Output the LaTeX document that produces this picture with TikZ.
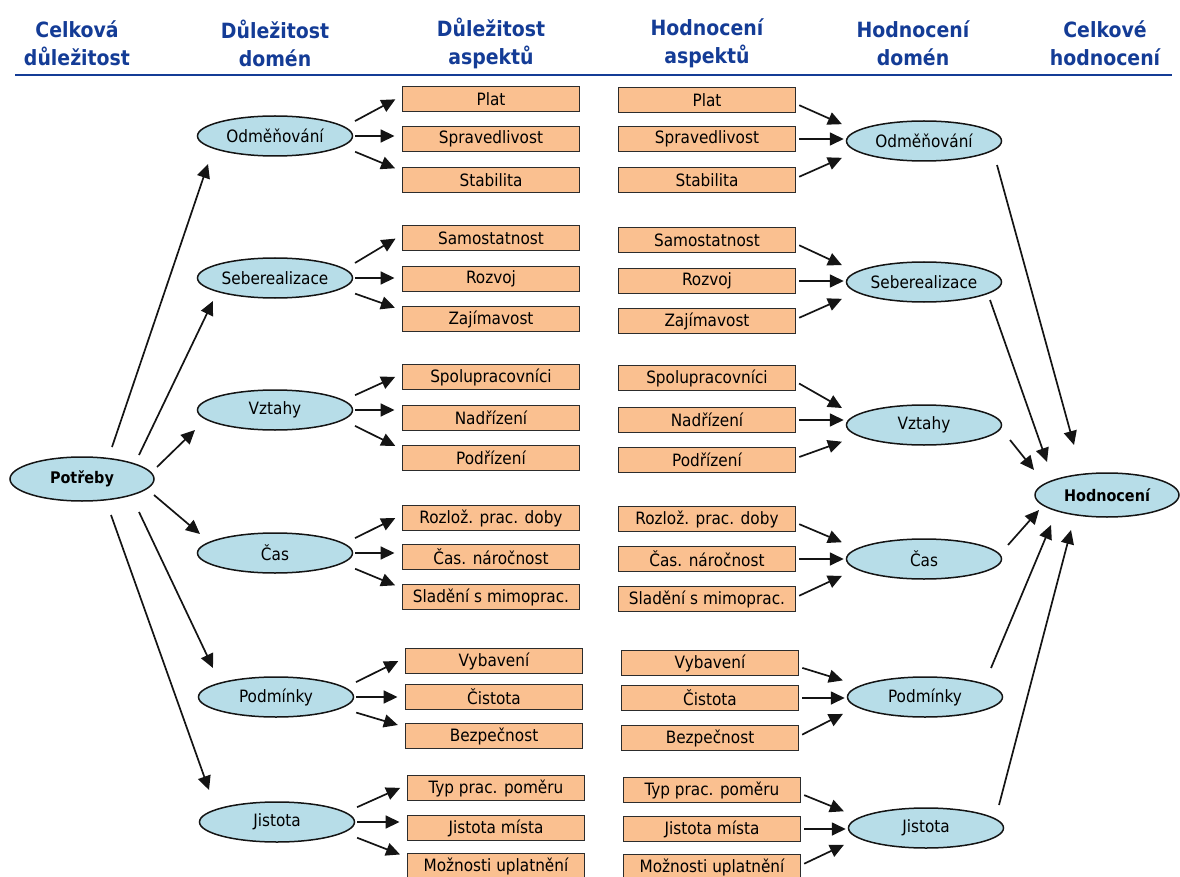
\documentclass[tikz,border=0pt]{standalone}
\usepackage{fontspec}
\setmainfont{DejaVu Sans Condensed}
\usepackage{xcolor}
\definecolor{cHead}{HTML}{143C96}
\definecolor{cDomain}{HTML}{B7DDE8}
\definecolor{cAspect}{HTML}{FAC090}
\definecolor{cLine}{HTML}{141414}
\usepackage{tikz}
\usetikzlibrary{arrows.meta,shapes.geometric}
\tikzset{
  node-head/.style={font=\fontsize{21}{28}\selectfont\bfseries,text=cHead,align=center},
  node-domain/.style={draw=cLine,line width=1.5pt,ellipse,fill=cDomain,
    minimum width=155pt,minimum height=40pt,inner sep=0pt,font=\fontsize{17}{20}\selectfont},
  node-total/.style={node-domain,minimum width=144pt,minimum height=44pt,
    font=\fontsize{16}{19}\selectfont\bfseries},
  node-aspect/.style={draw=cLine!90,line width=1.9pt,fill=cAspect,
    minimum width=177pt,minimum height=25pt,inner sep=0pt,font=\fontsize{17}{20}\selectfont},
  arrow/.style={-{Triangle[length=14pt,width=13pt]},line width=1.7pt,draw=cLine},
  % do aspektu: mezera u hrotu, do domeny: hrot skoro u elipsy
  arrow-in/.style={arrow,shorten <=2pt,shorten >=7pt},
  arrow-out/.style={arrow,shorten <=3pt,shorten >=2pt},
}

\begin{document}
\begin{tikzpicture}[x=1pt,y=-1pt]
  \useasboundingbox (0,0) rectangle (1180,877);

  % zahlavi
  \node[node-head] (h1) at (77,43) {Celková\\důležitost};
  \node[node-head] (h2) at (275,43) {Důležitost\\domén};
  \node[node-head] (h3) at (491,43) {Důležitost\\aspektů};
  \node[node-head] (h4) at (707,43) {Hodnocení\\aspektů};
  \node[node-head] (h5) at (913,43) {Hodnocení\\domén};
  \node[node-head] (h6) at (1105,43) {Celkové\\hodnocení};
  \coordinate (rule-l) at (15,75);
  \coordinate (rule-r) at (1172,75);
  \draw[cHead,line width=2pt] (rule-l) -- (rule-r);

  % levy okraj a pravy okraj
  \node[node-total] (potreby) at (82,479) {Potřeby};
  \node[node-total] (hodnoceni) at (1107,495) {Hodnocení};

  % domeny - dulezitost
  \node[node-domain] (odm-l) at (275,136) {Odměňování};
  \node[node-domain] (seb-l) at (275,278) {Seberealizace};
  \node[node-domain] (vzt-l) at (275,410) {Vztahy};
  \node[node-domain] (cas-l) at (275,553) {Čas};
  \node[node-domain] (pod-l) at (276,697) {Podmínky};
  \node[node-domain] (jis-l) at (277,822) {Jistota};

  % domeny - hodnoceni
  \node[node-domain] (odm-r) at (924,141) {Odměňování};
  \node[node-domain] (seb-r) at (924,282) {Seberealizace};
  \node[node-domain] (vzt-r) at (924,425) {Vztahy};
  \node[node-domain] (cas-r) at (924,559) {Čas};
  \node[node-domain] (pod-r) at (925,697) {Podmínky};
  \node[node-domain] (jis-r) at (926,828) {Jistota};

  % aspekty - dulezitost
  \node[node-aspect] (plat-l) at (491,99) {Plat};
  \node[node-aspect] (sprav-l) at (491,139) {Spravedlivost};
  \node[node-aspect] (stab-l) at (491,180) {Stabilita};
  \node[node-aspect] (samo-l) at (491,238) {Samostatnost};
  \node[node-aspect] (rozv-l) at (491,279) {Rozvoj};
  \node[node-aspect] (zaj-l) at (491,319) {Zajímavost};
  \node[node-aspect] (spol-l) at (491,377) {Spolupracovníci};
  \node[node-aspect] (nadr-l) at (491,418) {Nadřízení};
  \node[node-aspect] (podr-l) at (491,458) {Podřízení};
  \node[node-aspect] (rozl-l) at (491,518) {Rozlož. prac. doby};
  \node[node-aspect] (nar-l) at (491,557) {Čas. náročnost};
  \node[node-aspect] (slad-l) at (491,597) {Sladění s mimoprac.};
  \node[node-aspect] (vyb-l) at (494,661) {Vybavení};
  \node[node-aspect] (cist-l) at (494,697) {Čistota};
  \node[node-aspect] (bezp-l) at (494,736) {Bezpečnost};
  \node[node-aspect] (typ-l) at (496,788) {Typ prac. poměru};
  \node[node-aspect] (mist-l) at (496,828) {Jistota místa};
  \node[node-aspect] (upl-l) at (496,866) {Možnosti uplatnění};

  % aspekty - hodnoceni
  \node[node-aspect] (plat-r) at (707,100) {Plat};
  \node[node-aspect] (sprav-r) at (707,139) {Spravedlivost};
  \node[node-aspect] (stab-r) at (707,180) {Stabilita};
  \node[node-aspect] (samo-r) at (707,240) {Samostatnost};
  \node[node-aspect] (rozv-r) at (707,281) {Rozvoj};
  \node[node-aspect] (zaj-r) at (707,321) {Zajímavost};
  \node[node-aspect] (spol-r) at (707,378) {Spolupracovníci};
  \node[node-aspect] (nadr-r) at (707,420) {Nadřízení};
  \node[node-aspect] (podr-r) at (707,460) {Podřízení};
  \node[node-aspect] (rozl-r) at (707,519) {Rozlož. prac. doby};
  \node[node-aspect] (nar-r) at (707,559) {Čas. náročnost};
  \node[node-aspect] (slad-r) at (707,599) {Sladění s mimoprac.};
  \node[node-aspect] (vyb-r) at (710,663) {Vybavení};
  \node[node-aspect] (cist-r) at (710,698) {Čistota};
  \node[node-aspect] (bezp-r) at (710,738) {Bezpečnost};
  \node[node-aspect] (typ-r) at (712,790) {Typ prac. poměru};
  \node[node-aspect] (mist-r) at (712,829) {Jistota místa};
  \node[node-aspect] (upl-r) at (712,867) {Možnosti uplatnění};

  % potreby -> domeny
  \draw[arrow] ([shift={(30,-32)}]potreby.center) -- ([shift={(-67,28)}]odm-l.center);
  \draw[arrow] ([shift={(57,-24)}]potreby.center) -- ([shift={(-62,23)}]seb-l.center);
  \draw[arrow] ([shift={(75,-12)}]potreby.center) -- ([shift={(-80,20)}]vzt-l.center);
  \draw[arrow] ([shift={(72,16)}]potreby.center) -- ([shift={(-75,-19)}]cas-l.center);
  \draw[arrow] ([shift={(57,33)}]potreby.center) -- ([shift={(-63,-29)}]pod-l.center);
  \draw[arrow] ([shift={(29,36)}]potreby.center) -- ([shift={(-68,-32)}]jis-l.center);

  % domeny -> aspekty (dulezitost)
  \draw[arrow-in] ([yshift=14pt]odm-l.east) -- ([yshift=3pt]plat-l.west);
  \draw[arrow-in] (odm-l.east) -- (sprav-l.west |- odm-l.east);
  \draw[arrow-in] ([yshift=-15pt]odm-l.east) -- ([yshift=9pt]stab-l.west);
  \draw[arrow-in] ([yshift=14pt]seb-l.east) -- ([yshift=3pt]samo-l.west);
  \draw[arrow-in] (seb-l.east) -- (rozv-l.west |- seb-l.east);
  \draw[arrow-in] ([yshift=-15pt]seb-l.east) -- ([yshift=9pt]zaj-l.west);
  \draw[arrow-in] ([yshift=14pt]vzt-l.east) -- ([yshift=3pt]spol-l.west);
  \draw[arrow-in] (vzt-l.east) -- (nadr-l.west |- vzt-l.east);
  \draw[arrow-in] ([yshift=-15pt]vzt-l.east) -- ([yshift=9pt]podr-l.west);
  \draw[arrow-in] ([yshift=14pt]cas-l.east) -- ([yshift=3pt]rozl-l.west);
  \draw[arrow-in] (cas-l.east) -- (nar-l.west |- cas-l.east);
  \draw[arrow-in] ([yshift=-15pt]cas-l.east) -- ([yshift=9pt]slad-l.west);
  \draw[arrow-in] ([yshift=14pt]pod-l.east) -- ([yshift=3pt]vyb-l.west);
  \draw[arrow-in] (pod-l.east) -- (cist-l.west |- pod-l.east);
  \draw[arrow-in] ([yshift=-15pt]pod-l.east) -- ([yshift=9pt]bezp-l.west);
  \draw[arrow-in] ([yshift=14pt]jis-l.east) -- ([yshift=3pt]typ-l.west);
  \draw[arrow-in] (jis-l.east) -- (mist-l.west |- jis-l.east);
  \draw[arrow-in] ([yshift=-15pt]jis-l.east) -- ([yshift=9pt]upl-l.west);

  % aspekty -> domeny (hodnoceni)
  \draw[arrow-out] ([yshift=-4pt]plat-r.east) -- ([xshift=-2pt,yshift=16pt]odm-r.west);
  \draw[arrow-out] (sprav-r.east) -- (odm-r.west |- sprav-r.east);
  \draw[arrow-out] ([yshift=2pt]stab-r.east) -- ([xshift=-2pt,yshift=-16pt]odm-r.west);
  \draw[arrow-out] ([yshift=-4pt]samo-r.east) -- ([xshift=-2pt,yshift=16pt]seb-r.west);
  \draw[arrow-out] (rozv-r.east) -- (seb-r.west |- rozv-r.east);
  \draw[arrow-out] ([yshift=2pt]zaj-r.east) -- ([xshift=-2pt,yshift=-16pt]seb-r.west);
  \draw[arrow-out] ([yshift=-4pt]spol-r.east) -- ([xshift=-2pt,yshift=16pt]vzt-r.west);
  \draw[arrow-out] (nadr-r.east) -- (vzt-r.west |- nadr-r.east);
  \draw[arrow-out] ([yshift=2pt]podr-r.east) -- ([xshift=-2pt,yshift=-16pt]vzt-r.west);
  \draw[arrow-out] ([yshift=-4pt]rozl-r.east) -- ([xshift=-2pt,yshift=16pt]cas-r.west);
  \draw[arrow-out] (nar-r.east) -- (cas-r.west |- nar-r.east);
  \draw[arrow-out] ([yshift=2pt]slad-r.east) -- ([xshift=-2pt,yshift=-16pt]cas-r.west);
  \draw[arrow-out] ([yshift=-4pt]vyb-r.east) -- ([xshift=-2pt,yshift=16pt]pod-r.west);
  \draw[arrow-out] (cist-r.east) -- (pod-r.west |- cist-r.east);
  \draw[arrow-out] ([yshift=2pt]bezp-r.east) -- ([xshift=-2pt,yshift=-16pt]pod-r.west);
  \draw[arrow-out] ([yshift=-4pt]typ-r.east) -- ([xshift=-2pt,yshift=16pt]jis-r.west);
  \draw[arrow-out] (mist-r.east) -- (jis-r.west |- mist-r.east);
  \draw[arrow-out] ([yshift=2pt]upl-r.east) -- ([xshift=-2pt,yshift=-16pt]jis-r.west);

  % domeny -> hodnoceni
  \draw[arrow] ([shift={(73,24)}]odm-r.center) -- ([shift={(-33,-50)}]hodnoceni.center);
  \draw[arrow] ([shift={(66,18)}]seb-r.center) -- ([shift={(-60,-33)}]hodnoceni.center);
  \draw[arrow] ([shift={(86,15)}]vzt-r.center) -- ([shift={(-73,-25)}]hodnoceni.center);
  \draw[arrow] ([shift={(84,-14)}]cas-r.center) -- ([shift={(-68,15)}]hodnoceni.center);
  \draw[arrow] ([shift={(66,-29)}]pod-r.center) -- ([shift={(-56,30)}]hodnoceni.center);
  \draw[arrow] ([shift={(73,-23)}]jis-r.center) -- ([shift={(-36,35)}]hodnoceni.center);
\end{tikzpicture}
\end{document}
